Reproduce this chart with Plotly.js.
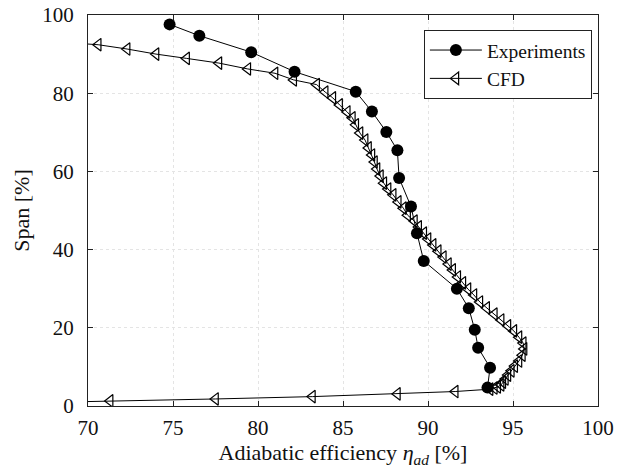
<!DOCTYPE html>
<html>
<head>
<meta charset="utf-8">
<script src="https://cdn.plot.ly/plotly-3.0.1.min.js"></script>
<style>html,body{margin:0;padding:0;background:#fff;}#chart{width:641px;height:472px;}</style>
</head>
<body>
<div id="chart"></div>
<script>
// Experiments: adiabatic efficiency [%] vs span [%]
const expEff = [74.8, 76.55, 79.6, 82.15, 85.75, 86.7, 87.55, 88.2, 88.3, 89.0, 89.35, 89.75, 91.7, 92.4, 92.75, 92.95, 93.65, 93.5];
const expSpan = [97.6, 94.7, 90.5, 85.5, 80.4, 75.3, 70.1, 65.4, 58.3, 51.0, 44.2, 37.1, 30.0, 25.0, 19.5, 14.9, 9.8, 4.7];

// CFD
const cfdEff = [68.5, 70.6, 72.3, 74.0, 75.8, 77.7, 79.4, 81.0, 82.1, 83.45,
  83.95, 84.4, 84.8, 85.25, 85.55, 85.75, 86.0, 86.3, 86.5, 86.7,
  86.85, 87.0, 87.2, 87.4, 87.65, 87.95, 88.25, 88.55, 88.8, 89.2,
  89.45, 89.75, 90.0, 90.3, 90.6, 90.9, 91.2, 91.45, 91.75, 92.05,
  92.35, 92.7, 93.05, 93.45, 93.9, 94.3, 94.7, 95.05, 95.35, 95.6,
  95.65, 95.55, 95.35, 95.1, 94.9, 94.7, 94.55, 94.4, 94.3, 94.1,
  93.9, 93.65, 91.6, 88.2, 83.2, 77.5, 71.3, 68.5];
const cfdSpan = [93.0, 92.4, 91.3, 90.0, 88.9, 87.7, 86.2, 85.1, 83.4, 82.2,
  80.3, 78.8, 77.0, 75.2, 73.7, 71.9, 69.8, 68.0, 66.0, 64.2,
  62.4, 60.6, 58.8, 57.0, 55.5, 54.0, 52.2, 50.6, 48.8, 47.3,
  45.8, 44.2, 42.7, 41.2, 39.6, 38.1, 36.3, 34.8, 33.0, 31.5,
  29.9, 28.4, 26.6, 25.1, 23.5, 22.0, 20.5, 19.2, 17.6, 16.1,
  14.6, 13.0, 11.5, 10.2, 9.0, 7.9, 6.9, 6.1, 5.4, 4.9,
  4.6, 4.3, 3.7, 3.1, 2.4, 1.8, 1.3, 1.0];

const xTicks = [70, 75, 80, 85, 90, 95, 100];
const yTicks = [0, 20, 40, 60, 80, 100];

function mkFont(size) { return {family: 'Liberation Serif, Times New Roman, serif', size: size, color: '#111111'}; }

const traces = [
  {x: expEff, y: expSpan, name: 'Experiments', type: 'scatter', mode: 'lines+markers',
   line: {color: '#000', width: 1}, marker: {symbol: 'circle', size: 12, color: '#000'}},
  {x: cfdEff, y: cfdSpan, name: 'CFD', type: 'scatter', mode: 'lines+markers',
   line: {color: '#000', width: 1}, marker: {symbol: 'triangle-left-open', size: 11, color: '#000', line: {width: 1.2, color: '#000'}}}
];

function axis(extra) {
  return Object.assign({
    showline: true, linecolor: '#222', linewidth: 1, mirror: 'ticks',
    ticks: 'inside', ticklen: 5, tickcolor: '#222',
    showgrid: true, gridcolor: '#e4e4e4', griddash: 'dot', gridwidth: 1,
    zeroline: false, tickfont: mkFont(21)
  }, extra);
}

const layout = {
  width: 641, height: 472,
  margin: {l: 88, r: 43, t: 15, b: 66},
  paper_bgcolor: '#fff', plot_bgcolor: '#fff',
  font: mkFont(20),
  showlegend: true,
  legend: {x: 0.988, y: 0.962, xanchor: 'right', yanchor: 'top',
    bordercolor: '#222', borderwidth: 1, bgcolor: '#fff', font: mkFont(19.5), tracegroupgap: 0,
    itemwidth: 52},
  xaxis: axis({range: [70, 100], tickvals: xTicks, ticklabelstandoff: 3,
    title: {text: 'Adiabatic efficiency <i>η</i><sub><i>ad</i></sub> [%]', font: mkFont(22), standoff: 2}}),
  yaxis: axis({range: [0, 100], tickvals: yTicks, ticklabelstandoff: 9,
    title: {text: 'Span [%]', font: mkFont(22), standoff: 6}})
};

Plotly.newPlot('chart', traces, layout, {displayModeBar: false, staticPlot: true});
</script>
</body>
</html>
